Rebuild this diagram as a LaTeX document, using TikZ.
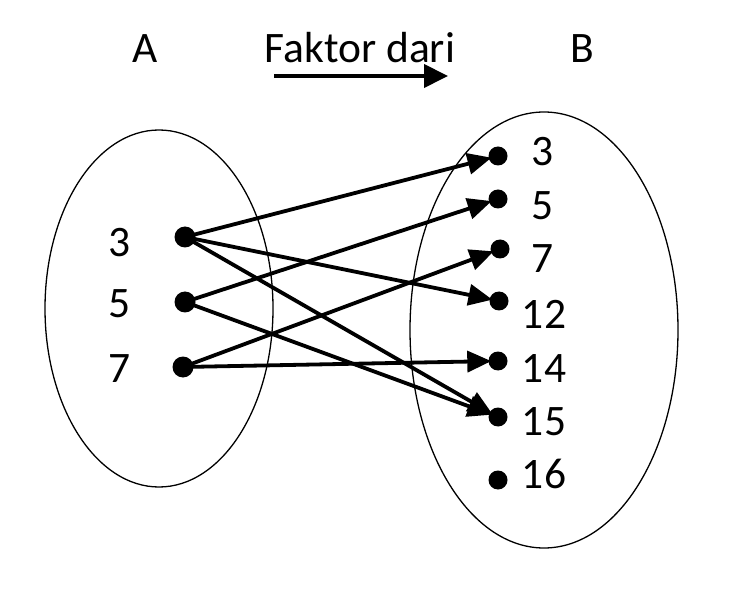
\documentclass[tikz,border=0pt]{standalone}
\usepackage{fontspec}
\setmainfont{Carlito}
\usetikzlibrary{arrows.meta}
\begin{document}
\begin{tikzpicture}[x=1pt,y=-1pt,
  lbl/.style={font=\fontsize{43.5}{50}\selectfont, inner sep=0pt, anchor=base},
  ldot/.style={circle, fill=black, inner sep=0pt, minimum size=21pt},
  rdot/.style={circle, fill=black, inner sep=0pt, minimum size=19pt},
  setline/.style={line width=1.3pt},
  conn/.style={line width=3.8pt, -{Triangle[length=24pt,width=21pt]}, shorten >=-3pt}
]
\useasboundingbox (0,0) rectangle (749,593);
% sets
\draw[setline] (159,308.5) ellipse [x radius=114pt, y radius=178.5pt];
\draw[setline] (544,330) ellipse [x radius=134pt, y radius=218pt];
% titles
\node[lbl] (tA) at (145,63) {A};
\node[lbl] (tB) at (582,63) {B};
\node[lbl] (tF) at (360,63) {Faktor dari};
\coordinate (fs) at (274,76);
\coordinate (fe) at (448,76);
\draw[line width=4pt, -{Triangle[length=24pt,width=23pt]}] (fs) -- (fe);
% left dots and labels
\node[ldot] (a3) at (185,237) {};
\node[ldot] (a5) at (185,302) {};
\node[ldot] (a7) at (183,367) {};
\node[lbl] (la3) at (120,257) {3};
\node[lbl] (la5) at (120,318) {5};
\node[lbl] (la7) at (120,382) {7};
% right dots and labels
\node[rdot] (b3) at (498,156) {};
\node[rdot] (b5) at (498,199) {};
\node[rdot] (b7) at (500,249) {};
\node[rdot] (b12) at (499,301) {};
\node[rdot] (b14) at (498,361) {};
\node[rdot] (b15) at (498,417) {};
\node[rdot] (b16) at (498,480) {};
\node[lbl] (lb3) at (543,166) {3};
\node[lbl] (lb5) at (543,220) {5};
\node[lbl] (lb7) at (543,273) {7};
\node[lbl] (lb12) at (544,328) {12};
\node[lbl] (lb14) at (544,382) {14};
\node[lbl] (lb15) at (544,435) {15};
\node[lbl] (lb16) at (544,488) {16};
% connectors
\draw[conn] (a3.center) -- (b3);
\draw[conn] (a3.center) -- (b12);
\draw[conn] (a3.center) -- (b15);
\draw[conn] (a5.center) -- (b5);
\draw[conn] (a5.center) -- (b15);
\draw[conn] (a7.center) -- (b7);
\draw[conn] (a7.center) -- (b14);
\end{tikzpicture}
\end{document}
